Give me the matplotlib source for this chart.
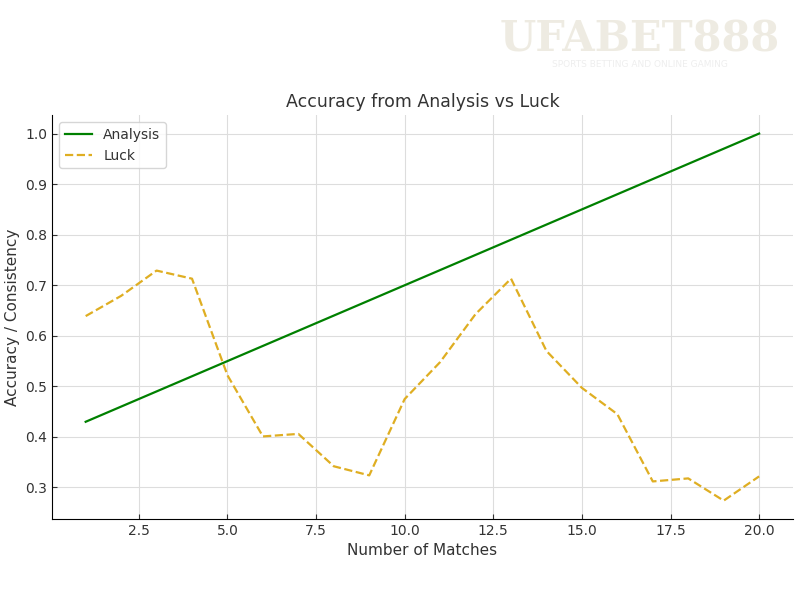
import matplotlib
matplotlib.use('Agg')
import matplotlib.pyplot as plt

# Dados
matches = list(range(1, 21))
analysis = [0.43, 0.46, 0.49, 0.52, 0.55, 0.58, 0.61, 0.64, 0.67, 0.70,
            0.73, 0.76, 0.79, 0.82, 0.85, 0.88, 0.91, 0.94, 0.97, 1.00]
luck = [0.639, 0.679, 0.729, 0.713, 0.522, 0.401, 0.406, 0.342, 0.324, 0.475,
        0.548, 0.643, 0.713, 0.570, 0.497, 0.445, 0.312, 0.318, 0.274, 0.322]

text_color = '#333333'
plt.rcParams['font.family'] = 'DejaVu Sans'

fig = plt.figure(figsize=(8, 6), dpi=100)
ax = fig.add_axes([0.065, 0.135, 0.926, 0.673])

ax.plot(matches, analysis, '-', color='green', linewidth=1.6, label='Analysis')
ax.plot(matches, luck, '--', color='#DFAE22', linewidth=1.6, label='Luck')

ax.set_title('Accuracy from Analysis vs Luck', fontsize=12.5, color=text_color)
ax.set_xlabel('Number of Matches', fontsize=11, color=text_color)
ax.set_ylabel('Accuracy / Consistency', fontsize=11, color=text_color)

ax.grid(True, color='#dddddd', linewidth=0.8)
ax.set_axisbelow(True)
ax.tick_params(direction='in', colors=text_color, labelsize=10)
for s in ['top', 'right']:
    ax.spines[s].set_visible(False)

ax.legend(loc='upper left', fontsize=10, labelcolor=text_color)

# Marca d'água
fig.text(0.8, 0.935, 'UFABET888', ha='center', va='center', fontsize=30,
         family='DejaVu Serif', fontweight='bold', color='#e4dfcf', alpha=0.6)
fig.text(0.8, 0.893, 'SPORTS BETTING AND ONLINE GAMING', ha='center', va='center',
         fontsize=6.5, color='#eeeeee')

fig.savefig('out.png', dpi=100)
